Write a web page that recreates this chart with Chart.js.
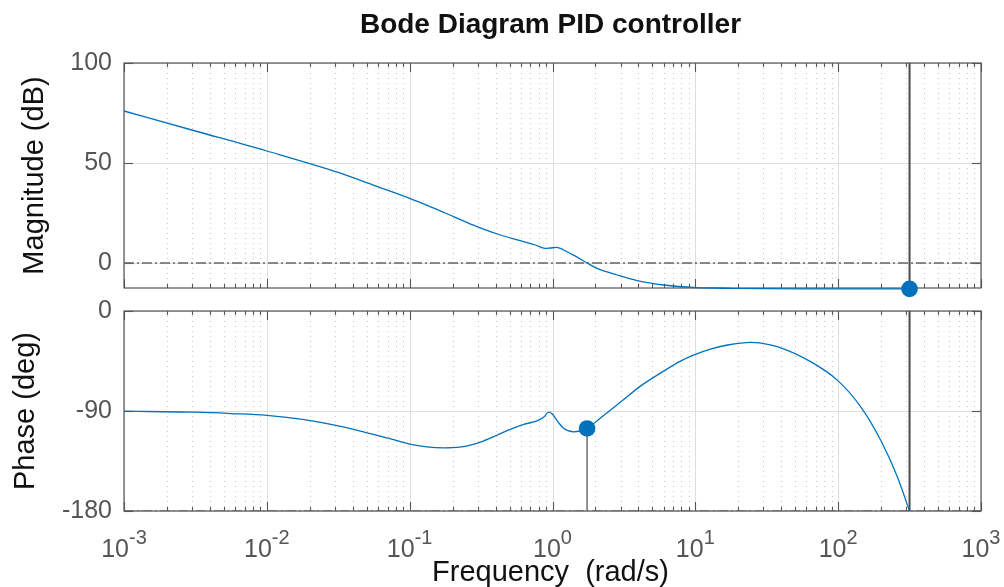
<!DOCTYPE html>
<html>
<head>
<meta charset="utf-8">
<script src="https://cdn.jsdelivr.net/npm/chart.js@4.4.1/dist/chart.umd.min.js"></script>
<style>
html,body{margin:0;padding:0;background:#fff;}
#wrap{position:relative;width:1004px;height:587px;overflow:hidden;background:#fff;}
canvas{position:absolute;left:0;}
#c1{top:0;}
#c2{top:290px;}
</style>
</head>
<body>
<div id="wrap">
<canvas id="c1" width="1004" height="300"></canvas>
<canvas id="c2" width="1004" height="297"></canvas>
</div>
<script>
// ---------------- data ----------------
const titleText = 'Bode Diagram PID controller';
const magLabel = 'Magnitude (dB)';
const phaseLabel = 'Phase (deg)';
const freqLabel = 'Frequency  (rad/s)';

const magFreq = [0.001, 0.00316, 0.01, 0.0316, 0.0562, 0.1, 0.139, 0.203, 0.296, 0.432, 0.596, 0.759, 0.891, 0.966, 1.064, 1.135, 1.25, 1.413, 1.746, 2.056, 2.838, 3.917, 6.01, 10, 17.8, 31.6, 100, 316];
const magDb   = [76, 66, 56, 45.3, 38.8, 32.3, 28.2, 23.2, 18.2, 14.0, 11.2, 9.0, 7.3, 7.5, 7.8, 7.3, 5.8, 3.8, 0, -2.7, -6.0, -8.8, -11.0, -12.3, -12.7, -12.85, -12.9, -12.95];

const phaseFreq = [0.001, 0.00316, 0.00562, 0.01, 0.0178, 0.0293, 0.0475, 0.0708, 0.1, 0.132, 0.173, 0.224, 0.266, 0.331, 0.409, 0.501, 0.628, 0.78, 0.869, 0.94, 0.993, 1.096, 1.2, 1.41, 1.746, 2.168, 2.992, 4.13, 5.70, 7.87, 9.70, 12.76, 16.8, 24.4, 28.2, 37.5, 64.1, 98.6, 143.9, 198.6, 260, 316];
const phaseDeg  = [-90.2, -91.1, -92.3, -93.9, -97.6, -102.5, -108.7, -114.5, -119.8, -122.3, -123.2, -122.6, -120.8, -116.8, -111.8, -106.8, -102.1, -98.8, -95.5, -91.0, -92.5, -100, -105.7, -108.7, -105.7, -96.3, -82, -67.6, -55.9, -45.1, -39.7, -34.3, -30.6, -28.2, -28.6, -32.1, -45.6, -62.2, -86.2, -116.3, -149.3, -180];

const xDecades   = [0.001, 0.01, 0.1, 1, 10, 100, 1000];
const xExponents = ['-3', '-2', '-1', '0', '1', '2', '3'];
const xMinorMult = [2, 3, 4, 5, 6, 7, 8, 9];
const magTicks   = [0, 50, 100];
const phaseTicks = [-180, -90, 0];
const magRange   = [-12.5, 100];
const phaseRange = [-180, 0];

// stability margins
const gmFreq = 316;    const gmMag = -12.95;   // gain margin point
const pmFreq = 1.746;  const pmPhase = -105.7; // phase margin point
const refMag = 0;      const refPhase = -180;

// ---------------- styles ----------------
const FONT = "'Liberation Sans', Arial, Helvetica, sans-serif";
const LINE_BLUE = '#0072BD';
const TICK_COL = '#555555';
const BOX_COL = '#555555';

const xTickValues = [];
xDecades.forEach((d, i) => {
  xTickValues.push({value: d, major: true});
  if (i < xDecades.length - 1) xMinorMult.forEach(m => xTickValues.push({value: +(m * d).toPrecision(6), major: false}));
});

function line(ctx, x1, y1, x2, y2) { ctx.beginPath(); ctx.moveTo(x1, y1); ctx.lineTo(x2, y2); ctx.stroke(); }

function axesPlugin(cfg) {
  return {
    id: 'matlabAxes',
    beforeDatasetsDraw(chart) {
      const ctx = chart.ctx, a = chart.chartArea, xs = chart.scales.x, ys = chart.scales.y;
      ctx.save();
      // minor dotted grid
      ctx.lineWidth = 1; ctx.strokeStyle = '#c8c8c8'; ctx.setLineDash([1, 4]);
      xs.ticks.forEach(t => { if (!t.major) { const p = Math.round(xs.getPixelForValue(t.value)) + 0.5; line(ctx, p, a.top, p, a.bottom); } });
      ctx.setLineDash([]);
      // major grid
      ctx.strokeStyle = '#dedede';
      xs.ticks.forEach(t => { if (t.major) { const p = Math.round(xs.getPixelForValue(t.value)) + 0.5; line(ctx, p, a.top, p, a.bottom); } });
      ys.ticks.forEach(t => { const p = Math.round(ys.getPixelForValue(t.value)) + 0.5; line(ctx, a.left, p, a.right, p); });
      // box
      ctx.strokeStyle = BOX_COL; ctx.lineWidth = 1.2;
      ctx.strokeRect(a.left, a.top, a.right - a.left, a.bottom - a.top);
      // inward ticks
      ctx.lineWidth = 1.1;
      xs.ticks.forEach(t => {
        const p = Math.round(xs.getPixelForValue(t.value)) + 0.5;
        const len = t.major ? 9 : 4;
        line(ctx, p, a.bottom, p, a.bottom - len);
        line(ctx, p, a.top, p, a.top + len);
      });
      ys.ticks.forEach(t => {
        const p = Math.round(ys.getPixelForValue(t.value)) + 0.5;
        line(ctx, a.left, p, a.left + 9, p);
        line(ctx, a.right, p, a.right - 9, p);
      });
      ctx.restore();
    },
    afterDraw(chart) {
      const ctx = chart.ctx, a = chart.chartArea, xs = chart.scales.x;
      ctx.save();
      if (cfg.title) {
        ctx.fillStyle = '#111'; ctx.font = 'bold 28px ' + FONT;
        ctx.textAlign = 'center'; ctx.textBaseline = 'alphabetic';
        ctx.fillText(cfg.title, (a.left + a.right) / 2 - 2, 33);
      }
      // y label (rotated)
      ctx.fillStyle = '#111'; ctx.font = '29px ' + FONT;
      ctx.textAlign = 'center'; ctx.textBaseline = 'alphabetic';
      ctx.translate(cfg.yLabelX, (a.top + a.bottom) / 2);
      ctx.rotate(-Math.PI / 2);
      ctx.fillText(cfg.yLabel, 0, 0);
      ctx.setTransform(1, 0, 0, 1, 0, 0);
      if (cfg.xLabels) {
        ctx.fillStyle = TICK_COL;
        xDecades.forEach((d, i) => {
          const p = xs.getPixelForValue(d);
          ctx.font = '25px ' + FONT; const wb = ctx.measureText('10').width;
          ctx.font = '20px ' + FONT; const we = ctx.measureText(xExponents[i]).width;
          const x0 = p - (wb + we) / 2;
          ctx.textAlign = 'left'; ctx.textBaseline = 'alphabetic';
          ctx.font = '25px ' + FONT; ctx.fillText('10', x0, cfg.xLabelBase);
          ctx.font = '20px ' + FONT; ctx.fillText(xExponents[i], x0 + wb, cfg.xLabelBase - 12.5);
        });
        ctx.fillStyle = '#111'; ctx.font = '29px ' + FONT; ctx.textAlign = 'center';
        ctx.fillText(freqLabel, (a.left + a.right) / 2 - 2, cfg.xTitleBase);
      }
      ctx.restore();
    }
  };
}

function commonOptions(yRange, yTicks, pad) {
  return {
    responsive: false, animation: false, devicePixelRatio: 1, events: [],
    layout: {padding: pad},
    plugins: {legend: {display: false}, tooltip: {enabled: false}, title: {display: false}},
    scales: {
      x: {
        type: 'logarithmic', min: 0.001, max: 1000,
        grid: {display: false}, border: {display: false},
        ticks: {display: false},
        afterBuildTicks: s => { s.ticks = xTickValues.map(t => ({value: t.value, major: t.major})); },
        afterFit: s => { s.height = 0; s.paddingLeft = 0; s.paddingRight = 0; s.paddingTop = 0; s.paddingBottom = 0; }
      },
      y: {
        type: 'linear', min: yRange[0], max: yRange[1],
        grid: {display: false, drawTicks: false}, border: {display: false},
        ticks: {color: TICK_COL, font: {size: 25, family: FONT}, padding: 12, autoSkip: false},
        afterBuildTicks: s => { s.ticks = yTicks.map(v => ({value: v})); },
        afterFit: s => { s.width = 124; s.paddingTop = 0; s.paddingBottom = 0; s.paddingLeft = 0; s.paddingRight = 0; }
      }
    }
  };
}

function pts(xs, ys) { return xs.map((x, i) => ({x: x, y: ys[i]})); }

// ---------------- magnitude chart ----------------
new Chart(document.getElementById('c1'), {
  type: 'line',
  data: {
    datasets: [
      {data: [{x: gmFreq, y: gmMag}], showLine: false, pointRadius: 8.3, pointBackgroundColor: LINE_BLUE, pointBorderWidth: 0, clip: false, order: 0},
      {data: pts(magFreq, magDb), borderColor: LINE_BLUE, borderWidth: 1.3, pointRadius: 0, cubicInterpolationMode: 'monotone', clip: false, order: 1},
      {data: [{x: 0.001, y: refMag}, {x: 1000, y: refMag}], borderColor: '#666', borderWidth: 1.3, borderDash: [10, 3, 2, 3], pointRadius: 0, order: 2},
      {data: [{x: gmFreq, y: magRange[1]}, {x: gmFreq, y: magRange[0]}], borderColor: '#4a4a4a', borderWidth: 2, pointRadius: 0, order: 2}
    ]
  },
  options: commonOptions(magRange, magTicks, {left: 0, right: 23, top: 63, bottom: 12}),
  plugins: [axesPlugin({title: titleText, yLabel: magLabel, yLabelX: 43})]
});

// ---------------- phase chart ----------------
new Chart(document.getElementById('c2'), {
  type: 'line',
  data: {
    datasets: [
      {data: [{x: pmFreq, y: pmPhase}], showLine: false, pointRadius: 8.3, pointBackgroundColor: LINE_BLUE, pointBorderWidth: 0, clip: false, order: 0},
      {data: pts(phaseFreq, phaseDeg), borderColor: LINE_BLUE, borderWidth: 1.3, pointRadius: 0, cubicInterpolationMode: 'monotone', clip: false, order: 1},
      {data: [{x: 0.001, y: refPhase}, {x: 1000, y: refPhase}], borderColor: '#666', borderWidth: 1.3, borderDash: [10, 3, 2, 3], pointRadius: 0, order: 2},
      {data: [{x: gmFreq, y: phaseRange[1]}, {x: gmFreq, y: phaseRange[0]}], borderColor: '#4a4a4a', borderWidth: 2, pointRadius: 0, order: 2},
      {data: [{x: pmFreq, y: pmPhase}, {x: pmFreq, y: phaseRange[0]}], borderColor: '#707070', borderWidth: 1.5, pointRadius: 0, order: 2}
    ]
  },
  options: commonOptions(phaseRange, phaseTicks, {left: 0, right: 23, top: 21, bottom: 76}),
  plugins: [axesPlugin({yLabel: phaseLabel, yLabelX: 33.5, xLabels: true, xLabelBase: 266.7, xTitleBase: 291})]
});
</script>
</body>
</html>
